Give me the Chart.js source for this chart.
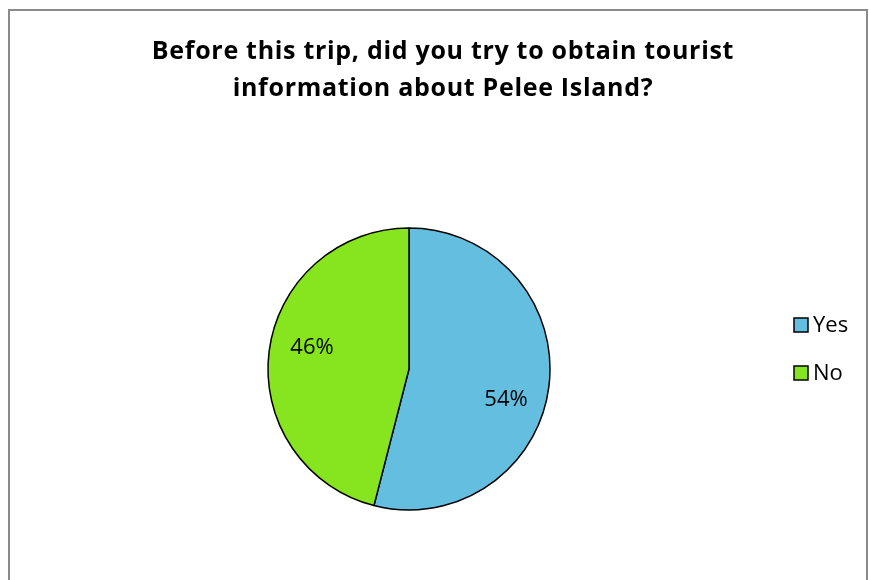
<!DOCTYPE html>
<html>
<head>
<meta charset="utf-8">
<script src="https://cdn.jsdelivr.net/npm/chart.js@4"></script>
<style>
  html, body { margin: 0; padding: 0; background: #fff; }
  canvas { display: block; }
</style>
</head>
<body>
<canvas id="tripChart" width="869" height="580"></canvas>
<script>
const titleLines = ['Before this trip, did you try to obtain tourist', 'information about Pelee Island?'];
const categories = ['Yes', 'No'];
const shares = [54, 46];
const sliceColors = ['#63bee0', '#87e51f'];

const FONT = '"Open Sans", Lato, sans-serif';

// frame, title and legend are drawn straight onto the canvas
const decorations = {
    id: 'decorations',
    beforeDraw(chart) {
        const ctx = chart.ctx;
        ctx.save();
        ctx.strokeStyle = '#8a8a8a';
        ctx.lineWidth = 2;
        ctx.strokeRect(9, 10, 858, 620);
        ctx.restore();
    },
    afterDraw(chart) {
        const ctx = chart.ctx;
        ctx.save();
        ctx.fillStyle = '#000';
        ctx.textAlign = 'center';
        ctx.textBaseline = 'middle';
        ctx.font = 'bold 25px ' + FONT;
        ctx.letterSpacing = '0.7px';
        titleLines.forEach((line, i) => ctx.fillText(line, 443, 52 + i * 37));
        ctx.letterSpacing = '0px';

        // percentage labels inside the slices
        const meta = chart.getDatasetMeta(0);
        const total = shares.reduce((a, b) => a + b, 0);
        ctx.font = '22px ' + FONT;
        meta.data.forEach((arc, i) => {
            const mid = (arc.startAngle + arc.endAngle) / 2 + 0.136;
            const dist = arc.outerRadius * 0.712;
            const x = arc.x + Math.cos(mid) * dist;
            const y = arc.y + Math.sin(mid) * dist + 5;
            ctx.fillText(Math.round(shares[i] / total * 100) + '%', x, y);
        });

        // legend
        ctx.textAlign = 'left';
        categories.forEach((name, i) => {
            const y = 325 + i * 48;
            ctx.fillStyle = sliceColors[i];
            ctx.fillRect(794, y - 7, 14, 14);
            ctx.strokeStyle = '#000';
            ctx.lineWidth = 1.5;
            ctx.strokeRect(794, y - 7, 14, 14);
            ctx.fillStyle = '#000';
            ctx.fillText(name, 813, y + 1);
        });
        ctx.restore();
    }
};

new Chart(document.getElementById('tripChart'), {
    type: 'pie',
    data: {
        labels: categories,
        datasets: [{
            data: shares,
            backgroundColor: sliceColors,
            borderColor: '#000',
            borderWidth: 1.5,
            radius: 141
        }]
    },
    options: {
        responsive: false,
        animation: false,
        layout: {
            padding: { left: 268, right: 319, top: 228, bottom: 70 }
        },
        plugins: {
            legend: { display: false },
            tooltip: { enabled: false },
            title: { display: false }
        }
    },
    plugins: [decorations]
});
</script>
</body>
</html>
